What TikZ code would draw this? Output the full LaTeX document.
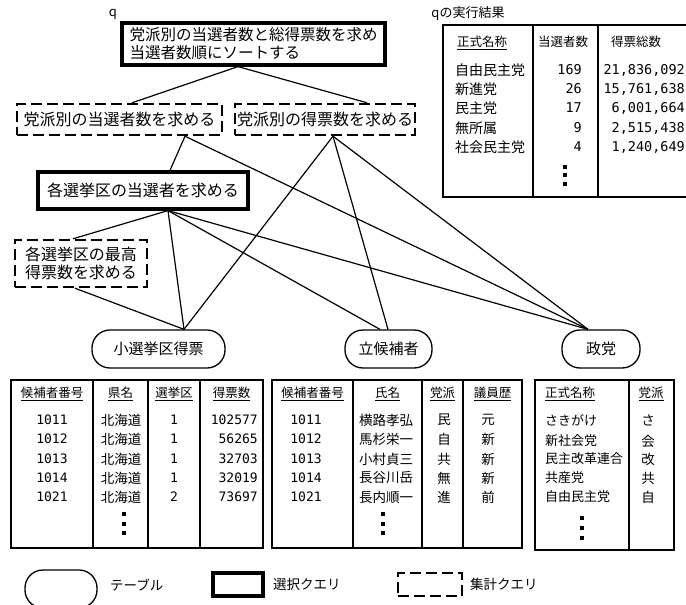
\documentclass[tikz,border=0pt]{standalone}
\usepackage{fontspec}
\setmainfont{Noto Sans CJK JP}
\newfontfamily\numjp{DejaVu Sans Mono}
\usepackage{tikz}
\usetikzlibrary{positioning,calc}

\newcommand\bigjp{\fontsize{16}{18}\selectfont}
\newcommand\midjp{\fontsize{15}{17}\selectfont}
\newcommand\cellf{\fontsize{13.5}{15}\selectfont}
\newcommand\headf{\fontsize{12.5}{14}\selectfont}
\newcommand\numf{\numjp\fontsize{13}{15}\selectfont}

\begin{document}
\begin{tikzpicture}[x=1pt,y=-1pt,
    selq/.style={draw,line width=3.2pt,inner sep=0pt,align=left,font=\bigjp},
    aggq/.style={draw,line width=2.4pt,dash pattern=on 11pt off 5pt,inner sep=0pt,align=left,font=\bigjp},
    tbl/.style={draw,line width=1.3pt,rounded corners=18pt,minimum height=38pt,inner sep=0pt,font=\midjp},
    link/.style={line width=1.2pt},
    frame/.style={line width=1.3pt},
    cell/.style={inner sep=0pt,font=\cellf},
    head/.style={inner sep=0pt,font=\headf},
    dot/.style={fill=black,minimum size=4pt,inner sep=0pt}]
  \useasboundingbox (0,0) rectangle (686,605);

  % queries
  \node (qname) at (113,14) {\fontsize{13}{15}\selectfont q};
  \node[selq,minimum width=263pt,minimum height=42pt,font=\fontsize{15.5}{18}\selectfont] (qtop) at (253.5,44) {党派別の当選者数と総得票数を求め\\当選者数順にソートする};
  \node[aggq,minimum width=205pt,minimum height=31pt] (nwin) at (119.5,119.5) {党派別の当選者数を求める};
  \node[aggq,minimum width=180pt,minimum height=31pt] (nvote) at (325,119.5) {党派別の得票数を求める};
  \node[selq,minimum width=210pt,minimum height=37pt] (winner) at (143,190.5) {各選挙区の当選者を求める};
  \node[aggq,minimum width=132pt,minimum height=47pt] (maxv) at (81,263.5) {各選挙区の最高\\得票数を求める};

  % tables
  \node[tbl,minimum width=133pt] (votes) at (158.5,349) {小選挙区得票};
  \node[tbl,minimum width=87pt] (cand) at (388.5,349) {立候補者};
  \node[tbl,minimum width=78pt] (party) at (601,349) {政党};

  % links
  \draw[link] ([xshift=-15.5pt]qtop.south) -- ([xshift=12.5pt]nwin.north);
  \draw[link] ([xshift=-15.5pt]qtop.south) -- ([xshift=42pt]nvote.north);
  \draw[link] ([xshift=65.5pt]nwin.south) -- ([xshift=27pt]winner.north);
  \draw[link] ([xshift=65.5pt]nwin.south) -- ([xshift=-13pt]party.north);
  \draw[link] ([xshift=8pt]nvote.south) -- ([xshift=25.5pt]votes.north);
  \draw[link] ([xshift=8pt]nvote.south) -- ([xshift=-0.5pt]cand.north);
  \draw[link] ([xshift=8pt]nvote.south) -- ([xshift=-13pt]party.north);
  \draw[link] ([xshift=25pt]winner.south) -- ([xshift=-8pt]maxv.north);
  \draw[link] ([xshift=25pt]winner.south) -- ([xshift=25.5pt]votes.north);
  \draw[link] ([xshift=25pt]winner.south) -- ([xshift=-8.5pt]cand.north);
  \draw[link] ([xshift=25pt]winner.south) -- ([xshift=-13pt]party.north);
  \draw[link] ([xshift=-6pt]maxv.south) -- ([xshift=25.5pt]votes.north);

  % result of q
  \node (qres) at (468,14) {\fontsize{13}{15}\selectfont qの実行結果};
  \draw[frame] (690,25) -- (443,25) -- (443,197) -- (690,197);
  \draw[frame] (533,25) -- (533,197);
  \draw[frame] (598,25) -- (598,197);
  \node[head] (qh1) at (482,43) {\underline{正式名称}};
  \node[head] (qh2) at (563,42) {当選者数};
  \node[head] (qh3) at (636,42) {得票総数};
  \foreach \y/\n/\w/\v [count=\i] in {70/自由民主党/169/{21,836,092}, 89/新進党/26/{15,761,638},
      108/民主党/17/{6,001,664}, 128/無所属/9/{2,515,438}, 147/社会民主党/4/{1,240,649}} {
    \node[cell,font=\fontsize{14}{16}\selectfont,anchor=west] (qn\i) at (455,\y) {\n};
    \node[cell,font=\numjp\fontsize{13.5}{16}\selectfont,anchor=east] (qw\i) at (582,\y) {\w};
    \node[cell,font=\numjp\fontsize{13.5}{16}\selectfont,anchor=east] (qv\i) at (685,\y) {\v};
  }
  \foreach \y [count=\i] in {167,175,184} \node[dot,minimum size=3.5pt] (qd\i) at (565,\y) {};

  % table: 小選挙区得票
  \draw[frame] (11,380) rectangle (263,548);
  \foreach \x in {93,148,200} \draw[frame] (\x,380) -- (\x,548);
  \node[head] (vh1) at (52,394) {\underline{候補者番号}};
  \node[head] (vh2) at (120.5,394) {\underline{県名}};
  \node[head] (vh3) at (174,394) {\underline{選挙区}};
  \node[head] (vh4) at (231.5,394) {\underline{得票数}};
  \foreach \y/\a/\b/\c/\d [count=\i] in {420/1011/北海道/1/102577, 439/1012/北海道/1/56265,
      459/1013/北海道/1/32703, 478/1014/北海道/1/32019, 497/1021/北海道/2/73697} {
    \node[cell,font=\numf] (va\i) at (52,\y) {\a};
    \node[cell] (vb\i) at (121,\y) {\b};
    \node[cell,font=\numf] (vc\i) at (174,\y) {\c};
    \node[cell,font=\numf,anchor=east] (ve\i) at (258,\y) {\d};
  }
  \foreach \y [count=\i] in {514,524,533} \node[dot] (vd\i) at (124,\y) {};

  % table: 立候補者
  \draw[frame] (272,380) rectangle (522,548);
  \foreach \x in {353,422,463} \draw[frame] (\x,380) -- (\x,548);
  \node[head] (ch1) at (312.5,394) {\underline{候補者番号}};
  \node[head] (ch2) at (387.5,394) {\underline{氏名}};
  \node[head] (ch3) at (442.5,394) {\underline{党派}};
  \node[head] (ch4) at (492.5,394) {\underline{議員歴}};
  \foreach \y/\a/\b/\c/\d [count=\i] in {420/1011/横路孝弘/民/元, 439/1012/馬杉栄一/自/新,
      459/1013/小村貞三/共/新, 478/1014/長谷川岳/無/新, 497/1021/長内順一/進/前} {
    \node[cell,font=\numf] (ca\i) at (306,\y) {\a};
    \node[cell] (cb\i) at (386,\y) {\b};
    \node[cell] (cc\i) at (444,\y) {\c};
    \node[cell] (ce\i) at (488,\y) {\d};
  }
  \foreach \y [count=\i] in {514,524,533} \node[dot] (cd\i) at (383,\y) {};

  % table: 政党
  \draw[frame] (535,380) rectangle (674,550);
  \draw[frame] (629,380) -- (629,550);
  \node[head,anchor=west] (ph1) at (545,394) {\underline{正式名称}};
  \node[head] (ph2) at (651,394) {\underline{党派}};
  \foreach \y/\a/\b [count=\i] in {420/さきがけ/さ, 441/新社会党/会, 459/民主改革連合/改,
      478/共産党/共, 497/自由民主党/自} {
    \node[cell,font=\fontsize{13}{15}\selectfont,anchor=west] (pa\i) at (545,\y) {\a};
    \node[cell] (pb\i) at (648,\y) {\b};
  }
  \foreach \y [count=\i] in {518,528,538} \node[dot] (pd\i) at (582,\y) {};

  % legend
  \node[tbl,minimum width=72pt] (lgtbl) at (61,589) {};
  \node[cell,anchor=west] (lgtbltx) at (110,585) {テーブル};
  \node[selq,minimum width=50pt,minimum height=23pt] (lgsel) at (238,584.5) {};
  \node[cell,anchor=west] (lgseltx) at (273,584) {選択クエリ};
  \node[aggq,minimum width=64pt,minimum height=23pt] (lgagg) at (430,584.5) {};
  \node[cell,anchor=west] (lgaggtx) at (470,584) {集計クエリ};
\end{tikzpicture}
\end{document}
